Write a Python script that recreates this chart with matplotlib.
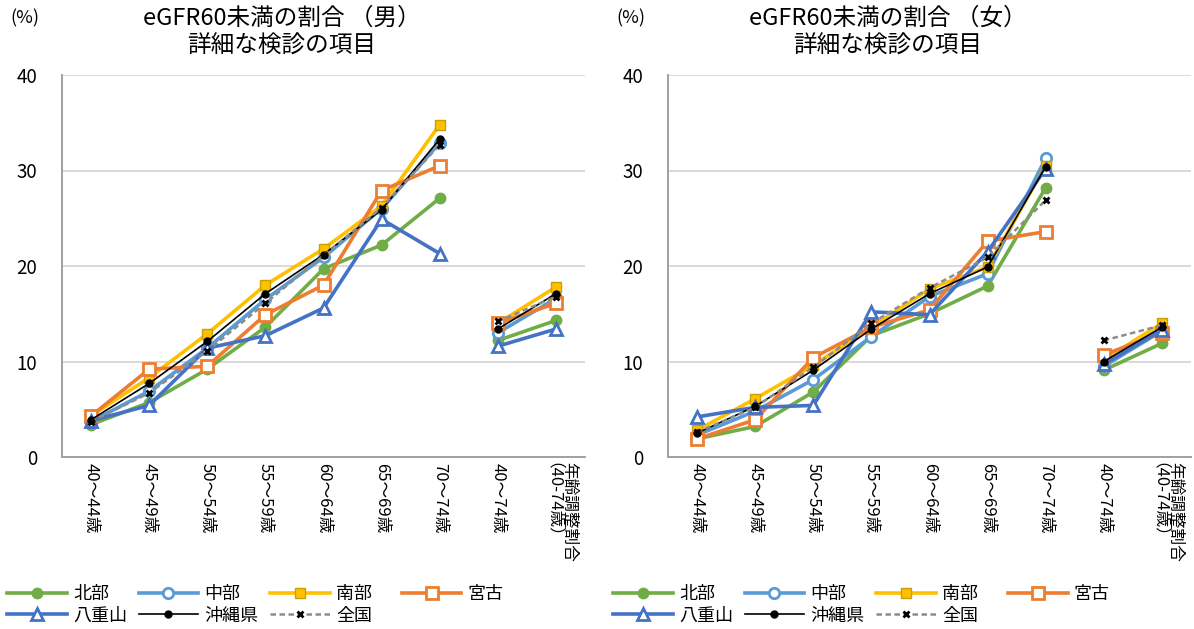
import matplotlib
matplotlib.use("Agg")
import matplotlib.pyplot as plt
import matplotlib.transforms as mtransforms

plt.rcParams['font.family'] = ['Noto Sans CJK JP', 'DejaVu Sans']

categories = ["40～44歳", "45～49歳", "50～54歳", "55～59歳", "60～64歳",
              "65～69歳", "70～74歳", "40～74歳", "年齢調整割合\n（40-74歳）"]
regions = ["北部", "中部", "南部", "宮古", "八重山", "沖縄県", "全国"]

# 男
m_hokubu  = [3.4, 5.7, 9.2, 13.6, 19.7, 22.2, 27.1, 12.2, 14.3]
m_chubu   = [3.7, 6.9, 11.4, 16.5, 20.9, 26.0, 32.9, 13.0, 16.6]
m_nanbu   = [4.3, 8.3, 12.9, 18.0, 21.8, 26.3, 34.8, 14.0, 17.8]
m_miyako  = [4.3, 9.2, 9.5, 14.9, 18.0, 27.9, 30.5, 14.0, 16.1]
m_yaeyama = [3.8, 5.4, 11.4, 12.7, 15.6, 24.9, 21.3, 11.6, 13.4]
m_okinawa = [3.9, 7.7, 12.1, 17.1, 21.2, 25.9, 33.3, 13.4, 17.1]
m_zenkoku = [3.7, 6.7, 11.1, 16.1, 21.1, 26.1, 32.7, 14.2, 16.8]

# 女
f_hokubu  = [1.9, 3.2, 6.8, 12.7, 15.0, 17.9, 28.2, 9.1, 11.9]
f_chubu   = [2.3, 4.8, 8.1, 12.6, 16.8, 19.2, 31.3, 9.5, 13.2]
f_nanbu   = [2.8, 6.1, 9.6, 13.6, 17.6, 19.9, 30.5, 10.2, 14.0]
f_miyako  = [1.9, 3.9, 10.4, 13.6, 15.4, 22.6, 23.6, 10.7, 13.0]
f_yaeyama = [4.2, 5.2, 5.4, 15.2, 14.9, 21.5, 30.2, 9.7, 13.3]
f_okinawa = [2.5, 5.3, 9.1, 13.4, 17.1, 19.9, 30.4, 10.0, 13.6]
f_zenkoku = [2.6, 5.2, 9.4, 14.0, 17.7, 20.9, 26.9, 12.2, 13.8]

styles = [
    dict(color="#70AD47", lw=2.6, marker="o", ms=7.5, mfc="#70AD47", mec="#70AD47"),
    dict(color="#5B9BD5", lw=2.6, marker="o", ms=7.5, mfc="white", mec="#5B9BD5", mew=2),
    dict(color="#FFC000", lw=2.6, marker="s", ms=7.5, mfc="#FFC000", mec="#C9A000", mew=1),
    dict(color="#ED7D31", lw=2.6, marker="s", ms=8, mfc="white", mec="#ED7D31", mew=2),
    dict(color="#4472C4", lw=2.6, marker="^", ms=9, mfc="white", mec="#4472C4", mew=2),
    dict(color="black", lw=1.2, marker="o", ms=5, mfc="black", mec="black"),
    dict(color="#8C8C8C", lw=1.8, ls=(0, (2.2, 1.4)), marker="x", ms=5, mfc="black", mec="black", mew=2),
]

W, H = 1194, 629
fig = plt.figure(figsize=(W / 100, H / 100), dpi=100)


def draw(left_px, series, sex):
    ax = fig.add_axes([left_px / W, 1 - 457 / H, 523 / W, 382 / H])
    x = list(range(len(categories)))
    handles = []
    for k, (vals, st) in enumerate(zip(series, styles)):
        h, = ax.plot(x[:7], vals[:7], zorder=3 + k, **st)
        ax.plot(x[7:], vals[7:], zorder=3 + k, **st)
        handles.append(h)
    ax.set_xlim(-0.5, 8.5)
    ax.set_ylim(0, 40)
    ax.set_yticks([0, 10, 20, 30, 40])
    ax.set_xticks(x)
    # last label has two lines: draw it by hand so the rotated lines don't overlap
    ax.set_xticklabels(categories[:-1] + [""], rotation=270, fontsize=12, va="top", ha="center")
    base = ax.get_xaxis_transform()
    for line, dx in zip(categories[-1].split("\n"), [13, -11]):
        tr = base + mtransforms.ScaledTranslation(dx / 100, -5 / 100, fig.dpi_scale_trans)
        ax.text(x[-1], 0, line, transform=tr, rotation=270, fontsize=12,
                ha="center", va="top")
    ax.tick_params(axis="y", length=0, pad=18, labelsize=13.5)
    ax.tick_params(axis="x", length=0, pad=4)
    ax.yaxis.grid(True, color="#D9D9D9", lw=1.4)
    ax.set_axisbelow(True)
    for s in ["top", "right"]:
        ax.spines[s].set_visible(False)
    for s in ["left", "bottom"]:
        ax.spines[s].set_color("#A0A0A0")
        ax.spines[s].set_linewidth(1.4)

    fig.text((left_px + 220) / W, 1 - 32 / H, f"eGFR60未満の割合 （{sex}）\n詳細な検診の項目",
             ha="center", va="center", fontsize=17, linespacing=1.3)
    fig.text((left_px - 37) / W, 1 - 18 / H, "(%)", ha="center", va="center", fontsize=13)

    order = [0, 4, 1, 5, 2, 6, 3]
    labels = [regions[i] for i in order]
    labels[4] = labels[4] + "\u3000"  # keep the 4th column in line with the reference
    ax.legend([handles[i] for i in order], labels,
              loc="upper left", bbox_to_anchor=((left_px - 55) / W, 1 - 585 / H),
              bbox_transform=fig.transFigure, ncol=4, frameon=False, fontsize=13,
              handlelength=3.3, handletextpad=0.35, columnspacing=0.65,
              labelspacing=0.2, borderpad=0, borderaxespad=0)


draw(62, [m_hokubu, m_chubu, m_nanbu, m_miyako, m_yaeyama, m_okinawa, m_zenkoku], "男")
draw(668, [f_hokubu, f_chubu, f_nanbu, f_miyako, f_yaeyama, f_okinawa, f_zenkoku], "女")

fig.savefig("out.png", dpi=100)
